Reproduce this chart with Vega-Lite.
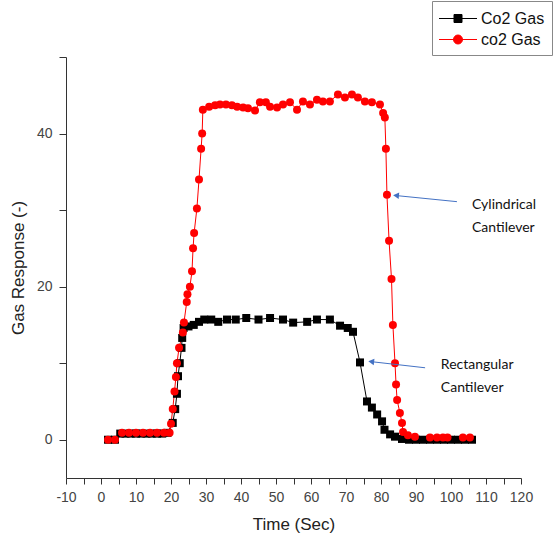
{
  "$schema": "https://vega.github.io/schema/vega-lite/v6.json",
  "width": 455,
  "height": 421,
  "autosize": {"type": "none"},
  "padding": {"left": 66, "top": 57, "right": 35, "bottom": 62},
  "config": {"view": {"stroke": null}, "font": "Liberation Sans"},
  "datasets": {
    "series": [
      {"t": 2, "v": 0, "s": "Co2 Gas"}, {"t": 4, "v": 0, "s": "Co2 Gas"},
      {"t": 5.5, "v": 0.8, "s": "Co2 Gas"}, {"t": 7, "v": 0.8, "s": "Co2 Gas"}, {"t": 8.5, "v": 0.8, "s": "Co2 Gas"},
      {"t": 10, "v": 0.8, "s": "Co2 Gas"}, {"t": 11.5, "v": 0.8, "s": "Co2 Gas"}, {"t": 13, "v": 0.8, "s": "Co2 Gas"},
      {"t": 14.5, "v": 0.8, "s": "Co2 Gas"}, {"t": 16, "v": 0.8, "s": "Co2 Gas"}, {"t": 17.5, "v": 0.8, "s": "Co2 Gas"},
      {"t": 19, "v": 0.9, "s": "Co2 Gas"}, {"t": 20.5, "v": 2.2, "s": "Co2 Gas"}, {"t": 21.2, "v": 4, "s": "Co2 Gas"},
      {"t": 21.7, "v": 6, "s": "Co2 Gas"}, {"t": 22, "v": 8.3, "s": "Co2 Gas"}, {"t": 22.5, "v": 10, "s": "Co2 Gas"},
      {"t": 23, "v": 12, "s": "Co2 Gas"}, {"t": 23.2, "v": 13.3, "s": "Co2 Gas"}, {"t": 23.6, "v": 14.6, "s": "Co2 Gas"},
      {"t": 25, "v": 14.8, "s": "Co2 Gas"}, {"t": 26.5, "v": 15, "s": "Co2 Gas"}, {"t": 28, "v": 15.4, "s": "Co2 Gas"},
      {"t": 29.5, "v": 15.7, "s": "Co2 Gas"}, {"t": 31.5, "v": 15.7, "s": "Co2 Gas"}, {"t": 33.5, "v": 15.4, "s": "Co2 Gas"},
      {"t": 36, "v": 15.7, "s": "Co2 Gas"}, {"t": 38.5, "v": 15.7, "s": "Co2 Gas"}, {"t": 41.5, "v": 15.9, "s": "Co2 Gas"},
      {"t": 45, "v": 15.7, "s": "Co2 Gas"}, {"t": 48.3, "v": 15.9, "s": "Co2 Gas"}, {"t": 52, "v": 15.7, "s": "Co2 Gas"},
      {"t": 54.9, "v": 15.3, "s": "Co2 Gas"}, {"t": 58.9, "v": 15.4, "s": "Co2 Gas"}, {"t": 61.7, "v": 15.7, "s": "Co2 Gas"},
      {"t": 65.4, "v": 15.7, "s": "Co2 Gas"}, {"t": 68.3, "v": 14.9, "s": "Co2 Gas"}, {"t": 70.5, "v": 14.6, "s": "Co2 Gas"},
      {"t": 72, "v": 14.1, "s": "Co2 Gas"}, {"t": 74, "v": 10.1, "s": "Co2 Gas"}, {"t": 76, "v": 5, "s": "Co2 Gas"},
      {"t": 77.4, "v": 4.2, "s": "Co2 Gas"}, {"t": 78.9, "v": 3.3, "s": "Co2 Gas"}, {"t": 80.3, "v": 2.4, "s": "Co2 Gas"},
      {"t": 81, "v": 1.3, "s": "Co2 Gas"}, {"t": 82.6, "v": 0.7, "s": "Co2 Gas"}, {"t": 84, "v": 0.4, "s": "Co2 Gas"},
      {"t": 86, "v": 0.1, "s": "Co2 Gas"}, {"t": 88, "v": 0, "s": "Co2 Gas"}, {"t": 90, "v": 0, "s": "Co2 Gas"},
      {"t": 92, "v": 0, "s": "Co2 Gas"}, {"t": 94, "v": 0, "s": "Co2 Gas"}, {"t": 96, "v": 0, "s": "Co2 Gas"},
      {"t": 98, "v": 0, "s": "Co2 Gas"}, {"t": 100, "v": 0, "s": "Co2 Gas"}, {"t": 102, "v": 0, "s": "Co2 Gas"},
      {"t": 104, "v": 0, "s": "Co2 Gas"}, {"t": 106, "v": 0, "s": "Co2 Gas"},
      {"t": 2, "v": 0, "s": "co2 Gas"}, {"t": 4, "v": 0, "s": "co2 Gas"},
      {"t": 6, "v": 0.9, "s": "co2 Gas"}, {"t": 8, "v": 0.9, "s": "co2 Gas"}, {"t": 10, "v": 0.9, "s": "co2 Gas"},
      {"t": 12, "v": 0.9, "s": "co2 Gas"}, {"t": 14, "v": 0.9, "s": "co2 Gas"}, {"t": 16, "v": 0.9, "s": "co2 Gas"},
      {"t": 18, "v": 0.9, "s": "co2 Gas"}, {"t": 19.6, "v": 0.9, "s": "co2 Gas"}, {"t": 20, "v": 2.1, "s": "co2 Gas"},
      {"t": 20.5, "v": 4, "s": "co2 Gas"}, {"t": 21, "v": 6.3, "s": "co2 Gas"}, {"t": 21.4, "v": 8.2, "s": "co2 Gas"},
      {"t": 21.7, "v": 10, "s": "co2 Gas"}, {"t": 22.3, "v": 12, "s": "co2 Gas"}, {"t": 23.4, "v": 14, "s": "co2 Gas"},
      {"t": 23.7, "v": 15.3, "s": "co2 Gas"}, {"t": 24.5, "v": 18, "s": "co2 Gas"}, {"t": 24.7, "v": 19, "s": "co2 Gas"},
      {"t": 25.4, "v": 20, "s": "co2 Gas"}, {"t": 26, "v": 22, "s": "co2 Gas"}, {"t": 26.3, "v": 25, "s": "co2 Gas"},
      {"t": 26.6, "v": 27, "s": "co2 Gas"}, {"t": 27.4, "v": 30.2, "s": "co2 Gas"}, {"t": 28, "v": 34, "s": "co2 Gas"},
      {"t": 28.6, "v": 38, "s": "co2 Gas"}, {"t": 28.9, "v": 40, "s": "co2 Gas"}, {"t": 29.1, "v": 43.1, "s": "co2 Gas"},
      {"t": 30.9, "v": 43.5, "s": "co2 Gas"}, {"t": 32.6, "v": 43.7, "s": "co2 Gas"}, {"t": 34, "v": 43.8, "s": "co2 Gas"},
      {"t": 35.7, "v": 43.8, "s": "co2 Gas"}, {"t": 37.4, "v": 43.7, "s": "co2 Gas"}, {"t": 38.9, "v": 43.5, "s": "co2 Gas"},
      {"t": 40.6, "v": 43.4, "s": "co2 Gas"}, {"t": 42, "v": 43.3, "s": "co2 Gas"}, {"t": 44, "v": 43, "s": "co2 Gas"},
      {"t": 45.4, "v": 44.1, "s": "co2 Gas"}, {"t": 47.1, "v": 44.1, "s": "co2 Gas"}, {"t": 48.3, "v": 43.5, "s": "co2 Gas"},
      {"t": 50.3, "v": 43.4, "s": "co2 Gas"}, {"t": 52, "v": 43.8, "s": "co2 Gas"}, {"t": 54, "v": 44.1, "s": "co2 Gas"},
      {"t": 56, "v": 43.1, "s": "co2 Gas"}, {"t": 57.7, "v": 44.2, "s": "co2 Gas"}, {"t": 59.7, "v": 43.8, "s": "co2 Gas"},
      {"t": 61.7, "v": 44.4, "s": "co2 Gas"}, {"t": 63.4, "v": 44.2, "s": "co2 Gas"}, {"t": 65.4, "v": 44.2, "s": "co2 Gas"},
      {"t": 67.7, "v": 45.1, "s": "co2 Gas"}, {"t": 69.7, "v": 44.7, "s": "co2 Gas"}, {"t": 71.7, "v": 45.1, "s": "co2 Gas"},
      {"t": 73.4, "v": 44.7, "s": "co2 Gas"}, {"t": 75.4, "v": 44.2, "s": "co2 Gas"}, {"t": 77.4, "v": 44.1, "s": "co2 Gas"},
      {"t": 79.7, "v": 43.8, "s": "co2 Gas"}, {"t": 80.6, "v": 42.7, "s": "co2 Gas"}, {"t": 81.1, "v": 42.1, "s": "co2 Gas"},
      {"t": 81.4, "v": 38, "s": "co2 Gas"}, {"t": 81.7, "v": 32, "s": "co2 Gas"}, {"t": 82.3, "v": 26, "s": "co2 Gas"},
      {"t": 83, "v": 21, "s": "co2 Gas"}, {"t": 83.4, "v": 15, "s": "co2 Gas"}, {"t": 84, "v": 10, "s": "co2 Gas"},
      {"t": 84.3, "v": 7.2, "s": "co2 Gas"}, {"t": 84.6, "v": 5.2, "s": "co2 Gas"}, {"t": 85.4, "v": 3.5, "s": "co2 Gas"},
      {"t": 86, "v": 2.2, "s": "co2 Gas"}, {"t": 86.3, "v": 1, "s": "co2 Gas"}, {"t": 87.7, "v": 0.6, "s": "co2 Gas"},
      {"t": 89.7, "v": 0.4, "s": "co2 Gas"}, {"t": 94, "v": 0.3, "s": "co2 Gas"}, {"t": 96, "v": 0.3, "s": "co2 Gas"},
      {"t": 97.7, "v": 0.3, "s": "co2 Gas"}, {"t": 99, "v": 0.3, "s": "co2 Gas"}, {"t": 103.4, "v": 0.3, "s": "co2 Gas"},
      {"t": 105.4, "v": 0.3, "s": "co2 Gas"}
    ],
    "notes": [
      {"t": 106, "v": 30.6, "label": "Cylindrical"},
      {"t": 106, "v": 27.6, "label": "Cantilever"},
      {"t": 97.1, "v": 9.7, "label": "Rectangular"},
      {"t": 97.1, "v": 6.8, "label": "Cantilever"}
    ],
    "arrows": [
      {"t": 84.3, "v": 31.9, "t2": 101.7, "v2": 31.1, "angle": 4.6},
      {"t": 77.2, "v": 10.2, "t2": 92.6, "v2": 9.4, "angle": 6.2}
    ]
  },
  "encoding": {
    "x": {
      "field": "t", "type": "quantitative",
      "scale": {"domain": [-10, 120], "nice": false, "zero": false},
      "axis": {
        "title": "Time (Sec)",
        "values": [-10, -5, 0, 5, 10, 15, 20, 25, 30, 35, 40, 45, 50, 55, 60, 65, 70, 75, 80, 85, 90, 95, 100, 105, 110, 115, 120],
        "labelExpr": "datum.value % 10 === 0 ? '' + datum.value : ''",
        "grid": false, "domainColor": "#333", "tickColor": "#333", "tickSize": 6,
        "labelFont": "Liberation Sans", "titleFont": "Liberation Sans",
        "labelColor": "#444", "labelFontSize": 14, "labelPadding": 6, "labelFlush": false, "labelOverlap": false,
        "titleFontSize": 17, "titleFontWeight": "normal", "titleColor": "#222", "titlePadding": 12,
        "encode": {"ticks": {"update": {"y2": {"signal": "datum.value % 10 === 0 ? 6 : 3"}}}}
      }
    },
    "y": {
      "field": "v", "type": "quantitative",
      "scale": {"domain": [-5, 50], "nice": false, "zero": false},
      "axis": {
        "title": "Gas Response (-)",
        "values": [0, 10, 20, 30, 40, 50],
        "labelExpr": "datum.value % 20 === 0 ? '' + datum.value : ''",
        "grid": false, "domainColor": "#333", "tickColor": "#333", "tickSize": 7,
        "labelFont": "Liberation Sans", "titleFont": "Liberation Sans",
        "labelColor": "#444", "labelFontSize": 14, "labelPadding": 7, "labelOverlap": false,
        "titleFontSize": 17, "titleFontWeight": "normal", "titleColor": "#222", "titlePadding": 9,
        "encode": {"ticks": {"update": {"x2": {"signal": "datum.value % 20 === 0 ? -7 : -4"}}}}
      }
    }
  },
  "layer": [
    {
      "data": {"name": "series"},
      "mark": {"type": "line", "strokeWidth": 1},
      "encoding": {
        "color": {
          "field": "s", "type": "nominal",
          "scale": {"domain": ["Co2 Gas", "co2 Gas"], "range": ["#000000", "#ff0000"]},
          "legend": {
            "title": null, "orient": "none", "legendX": 366, "legendY": -56, "direction": "vertical",
            "padding": 7, "strokeColor": "#888", "fillColor": "#ffffff",
            "labelFont": "Liberation Sans",
            "labelFontSize": 16, "labelColor": "#111", "symbolSize": 400, "rowPadding": 2, "labelOffset": 21,
            "symbolStrokeWidth": 1,
            "encode": {"symbols": {"update": {
              "shape": {"signal": "datum.value === 'Co2 Gas' ? 'M-1.05,0H2.75M0.45,-0.4H1.25V0.4H0.45Z' : 'M-1.05,0H2.75M1.3,0A0.45,0.45,0,1,1,0.4,0A0.45,0.45,0,1,1,1.3,0Z'"},
              "stroke": {"signal": "datum.value === 'Co2 Gas' ? '#000000' : '#ff0000'"},
              "fill": {"signal": "datum.value === 'Co2 Gas' ? '#000000' : '#ff0000'"},
              "strokeWidth": {"value": 1},
              "opacity": {"value": 1}
            }}}
          }
        }
      }
    },
    {
      "data": {"name": "series"},
      "transform": [{"filter": "datum.s === 'Co2 Gas'"}],
      "mark": {"type": "point", "shape": "square", "filled": true, "size": 64, "opacity": 1, "color": "#000000"}
    },
    {
      "data": {"name": "series"},
      "transform": [{"filter": "datum.s === 'co2 Gas'"}],
      "mark": {"type": "point", "shape": "circle", "filled": true, "size": 64, "opacity": 1, "color": "#ff0000"}
    },
    {
      "data": {"name": "arrows"},
      "mark": {"type": "rule", "color": "#4472C4", "strokeWidth": 1},
      "encoding": {
        "x2": {"field": "t2"},
        "y2": {"field": "v2"}
      }
    },
    {
      "data": {"name": "arrows"},
      "mark": {"type": "point", "shape": "triangle-left", "filled": true, "color": "#4472C4", "size": 45, "opacity": 1},
      "encoding": {
        "angle": {"field": "angle", "type": "quantitative", "scale": null}
      }
    },
    {
      "data": {"name": "notes"},
      "mark": {"type": "text", "align": "left", "baseline": "middle", "font": "Lato", "fontSize": 14, "color": "#111"},
      "encoding": {
        "text": {"field": "label"}
      }
    }
  ]
}
